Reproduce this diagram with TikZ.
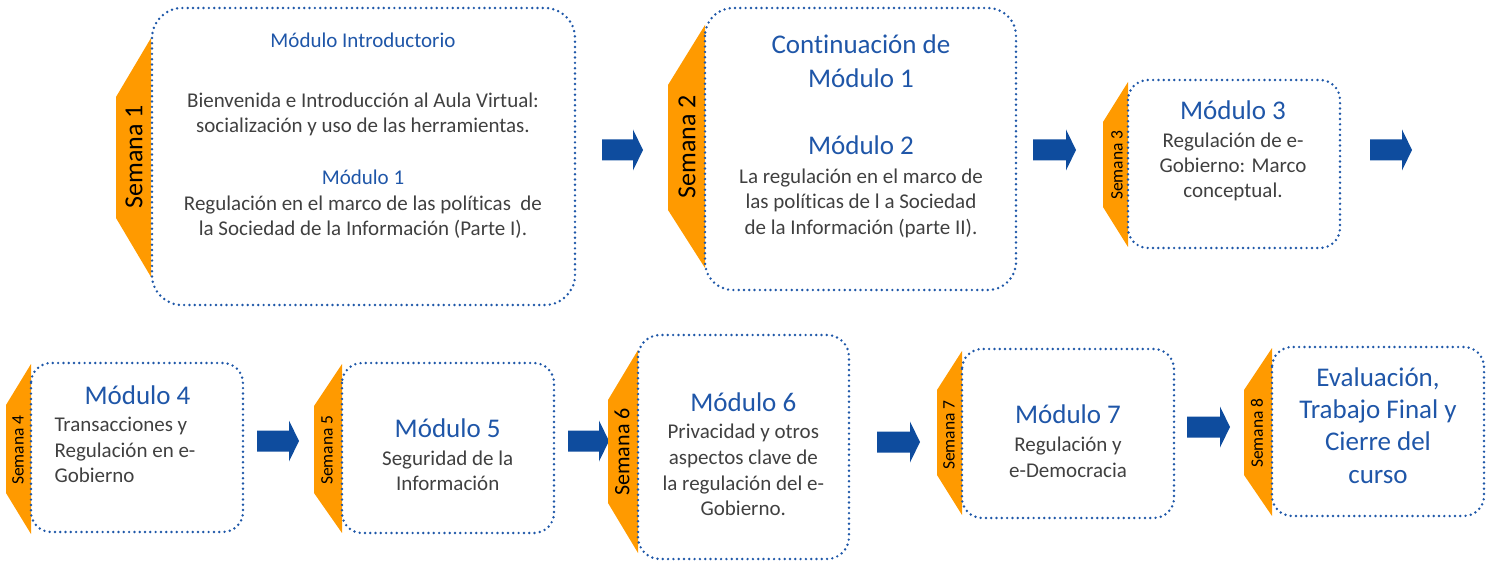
\documentclass[tikz,border=0pt]{standalone}
\usepackage{fontspec}
\setmainfont{Carlito}[Ligatures=NoCommon]
\definecolor{tabor}{HTML}{FF9A00}
\definecolor{arrb}{HTML}{0E4C9E}
\definecolor{ttl}{HTML}{1F56A8}
\definecolor{dotb}{HTML}{1E57A8}
\definecolor{bodyg}{HTML}{404040}
\tikzset{
  modbox/.style={draw=dotb, line width=2.7pt, dash pattern=on 0pt off 5.3pt, line cap=round},
  tabshape/.style={fill=tabor},
  blk/.style={fill=arrb},
  ln/.style={anchor=base, inner sep=0pt, text=bodyg, font=\fontsize{21}{25}\selectfont},
  lnw/.style={ln, anchor=base west},
  ttlS/.style={ln, text=ttl},
  ttlL/.style={anchor=base, inner sep=0pt, text=ttl, font=\fontsize{27}{33}\selectfont},
  semL/.style={rotate=90, inner sep=0pt, text=black, font=\fontsize{26}{30}\selectfont},
  semM/.style={rotate=90, inner sep=0pt, text=black, font=\fontsize{22}{26}\selectfont},
  semS/.style={rotate=90, inner sep=0pt, text=black, font=\fontsize{17.5}{20}\selectfont},
}
\newcommand\blkarr[3]{% left x, tip x, center y
  \fill[blk] (#1,#3-10.5) -- ({#2-10},#3-10.5) -- ({#2-10},#3-20.5) -- (#2,#3) -- ({#2-10},#3+20.5) -- ({#2-10},#3+10.5) -- (#1,#3+10.5) -- cycle;}
\begin{document}
\begin{tikzpicture}[x=1pt,y=-1pt]
\useasboundingbox (0,0) rectangle (1491,561);

% ---------- Row 1 ----------
% Semana 1
\fill[tabshape] (151,38) -- (116,97) -- (116,218) -- (151,277) -- cycle;
\draw[modbox, rounded corners=30pt] (152,8) rectangle (575,305);
\node[semL] (s1) at (134,157) {Semana 1};
\node[ttlS] (m0) at (363,47.7) {Módulo Introductorio};
\node[ln] (b1a) at (363,107.3) {Bienvenida e Introducción al Aula Virtual:};
\node[ln] (b1b) at (363,132.7) {socialización y uso de las herramientas.};
\node[ttlS] (m1) at (363,185) {Módulo 1};
\node[ln] (b1c) at (363,210.7) {Regulación en el marco de las políticas\ \ de};
\node[ln] (b1d) at (363,236) {la Sociedad de la Información (Parte I).};

\blkarr{602}{643}{150}

% Semana 2
\fill[tabshape] (705,25) -- (668,85) -- (668,210) -- (705,268) -- cycle;
\draw[modbox, rounded corners=28pt] (705,8) rectangle (1016,290);
\node[semL] (s2) at (687,147) {Semana 2};
\node[ttlL] (c1a) at (861,53.3) {Continuación de};
\node[ttlL] (c1b) at (861,87.3) {Módulo 1};
\node[ttlL] (m2) at (861,155) {Módulo 2};
\node[ln] (b2a) at (861,183.3) {La regulación en el marco de};
\node[ln] (b2b) at (861,209) {las políticas de l a Sociedad};
\node[ln] (b2c) at (861,234.3) {de la Información (parte II).};

\blkarr{1033}{1076}{150}

% Semana 3
\fill[tabshape] (1128,82) -- (1103,122) -- (1103,207) -- (1128,247) -- cycle;
\draw[modbox, rounded corners=20pt] (1128,80) rectangle (1340,248);
\node[semS] (s3) at (1117,165) {Semana 3};
\node[ttlL] (m3) at (1233,120) {Módulo 3};
\node[ln] (b3a) at (1233,147.3) {Regulación de e-};
\node[ln] (b3b) at (1233,172.7) {Gobierno: Marco};
\node[ln] (b3c) at (1233,197.7) {conceptual.};

\blkarr{1370}{1412}{150}

% ---------- Row 2 ----------
% Semana 4
\fill[tabshape] (31,364) -- (6,405) -- (6,493) -- (31,534) -- cycle;
\draw[modbox, rounded corners=20pt] (31,363) rectangle (243,532);
\node[semS] (s4) at (18,450) {Semana 4};
\node[ttlL] (m4) at (137.5,404) {Módulo 4};
\node[lnw] (b4a) at (54.3,431.7) {Transacciones y};
\node[lnw] (b4b) at (54.3,457.3) {Regulación en e-};
\node[lnw] (b4c) at (54.3,482.7) {Gobierno};

\blkarr{257}{299}{441}

% Semana 5
\fill[tabshape] (342,364) -- (314,406) -- (314,493) -- (342,533) -- cycle;
\draw[modbox, rounded corners=20pt] (342,363) rectangle (554,533);
\node[semS] (s5) at (327,450) {Semana 5};
\node[ttlL] (m5) at (447.7,437.7) {Módulo 5};
\node[ln] (b5a) at (447.7,465) {Seguridad de la};
\node[ln] (b5b) at (447.7,490.7) {Información};

\blkarr{568}{609}{441}

% Semana 6
\fill[tabshape] (638,350) -- (608,400) -- (608,503) -- (638,553) -- cycle;
\draw[modbox, rounded corners=22pt] (638,335) rectangle (849,559);
\node[semM] (s6) at (622,452) {Semana 6};
\node[ttlL] (m6) at (743.3,411) {Módulo 6};
\node[ln] (b6a) at (743.3,438.3) {Privacidad y otros};
\node[ln] (b6b) at (743.3,464) {aspectos clave de};
\node[ln] (b6c) at (743.3,490) {la regulación del e-};
\node[ln] (b6d) at (743.3,515) {Gobierno.};

\blkarr{877}{920}{442}

% Semana 7
\fill[tabshape] (962,351) -- (937,390) -- (937,475) -- (962,515) -- cycle;
\draw[modbox, rounded corners=20pt] (962,349) rectangle (1174,518);
\node[semS] (s7) at (949,435) {Semana 7};
\node[ttlL] (m7) at (1068,423.3) {Módulo 7};
\node[ln] (b7a) at (1068,451.7) {Regulación y};
\node[ln] (b7b) at (1068,477.3) {e-Democracia};

\blkarr{1187}{1230}{427}

% Semana 8
\fill[tabshape] (1272,348) -- (1244,390) -- (1244,475) -- (1272,516) -- cycle;
\draw[modbox, rounded corners=20pt] (1272,347) rectangle (1484,516);
\node[semS] (s8) at (1257,433) {Semana 8};
\node[ttlL] (e8a) at (1378,386) {Evaluación,};
\node[ttlL] (e8b) at (1378,418.3) {Trabajo Final y};
\node[ttlL] (e8c) at (1378,450.7) {Cierre del};
\node[ttlL] (e8d) at (1378,483.3) {curso};
\end{tikzpicture}
\end{document}
